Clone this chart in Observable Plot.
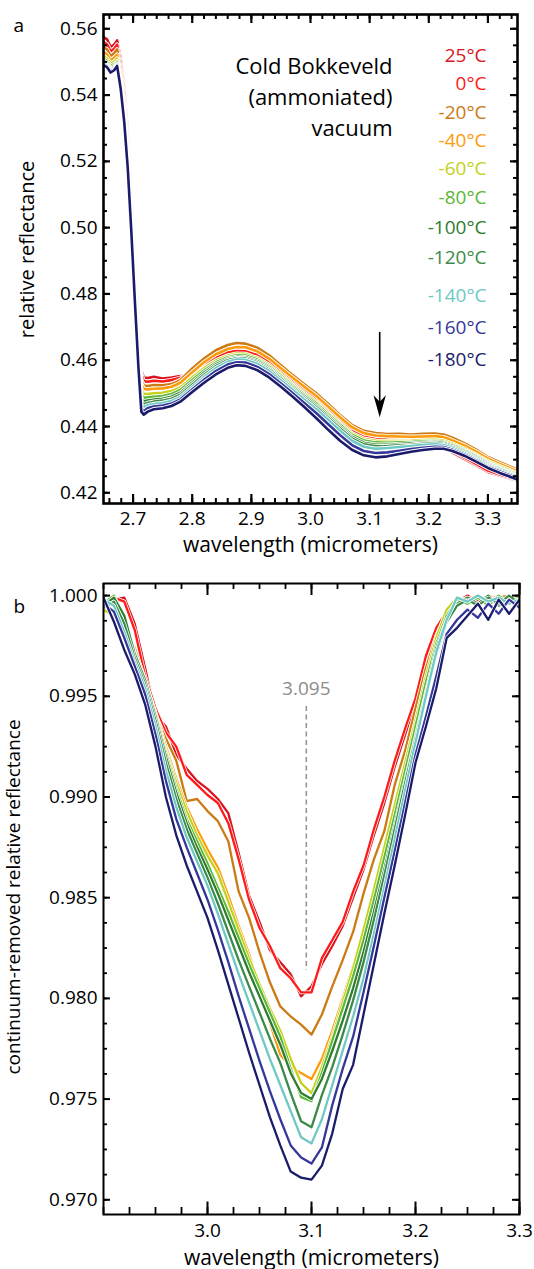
<!DOCTYPE html>
<html><head><meta charset="utf-8">
<script src="https://cdn.jsdelivr.net/npm/d3@7"></script>
<script src="https://cdn.jsdelivr.net/npm/@observablehq/plot@0.6"></script>
<style>
html,body{margin:0;padding:0;background:#fff;}
#chart svg{display:block;}
</style></head><body><div id="chart"></div>
<script>
// ---------- categories & colours ----------
const temps = ["25°C","0°C","-20°C","-40°C","-60°C","-80°C","-100°C","-120°C","-140°C","-160°C","-180°C"];
const colors = ["#d9141e","#ff1a1a","#cc7a14","#ff9a0a","#c4d21a","#5cb836","#2e7d2e","#3d8a48","#6ec8c4","#36379a","#1b1b6b"];

// ---------- panel a : relative reflectance ----------
const wlA = [2.650,2.656,2.662,2.668,2.673,2.679,2.685,2.691,2.697,2.703,2.709,2.714,2.718,2.725,2.735,2.750,2.765,2.780,2.800,2.820,2.840,2.860,2.875,2.890,2.910,2.930,2.950,2.970,2.990,3.010,3.030,3.050,3.070,3.090,3.110,3.130,3.150,3.170,3.190,3.210,3.225,3.240,3.260,3.280,3.300,3.320,3.350];
const a25  = [.5575,.5568,.5545,.5552,.5565,.5510,.5420,.5290,.5110,.4910,.4710,.4570,.4548,.4546,.4550,.4545,.4548,.4552,.4562,.4585,.4605,.4620,.4625,.4624,.4614,.4595,.4568,.4540,.4513,.4486,.4455,.4423,.4392,.4372,.4365,.4362,.4360,.4358,.4356,.4350,.4338,.4322,.4302,.4283,.4263,.4252,.4237];
const a0   = [.5560,.5553,.5532,.5540,.5552,.5495,.5405,.5275,.5095,.4895,.4695,.4558,.4537,.4535,.4538,.4536,.4540,.4547,.4565,.4590,.4610,.4624,.4628,.4627,.4616,.4596,.4568,.4539,.4511,.4484,.4452,.4420,.4389,.4369,.4362,.4360,.4359,.4358,.4357,.4353,.4343,.4327,.4307,.4287,.4267,.4255,.4240];
const am20 = [.5545,.5538,.5518,.5526,.5538,.5478,.5385,.5255,.5075,.4875,.4675,.4540,.4524,.4522,.4525,.4524,.4528,.4540,.4575,.4605,.4630,.4646,.4652,.4650,.4638,.4615,.4585,.4555,.4527,.4500,.4468,.4435,.4405,.4387,.4380,.4377,.4378,.4376,.4378,.4379,.4376,.4366,.4350,.4330,.4308,.4292,.4270];
const am40 = [.5530,.5522,.5505,.5512,.5522,.5460,.5365,.5235,.5055,.4855,.4655,.4528,.4514,.4512,.4514,.4515,.4520,.4532,.4564,.4594,.4618,.4634,.4640,.4639,.4627,.4605,.4576,.4547,.4519,.4492,.4460,.4428,.4398,.4380,.4373,.4371,.4370,.4369,.4370,.4371,.4368,.4358,.4343,.4324,.4303,.4287,.4265];
const am60 = [.5518,.5510,.5495,.5500,.5510,.5447,.5350,.5218,.5035,.4835,.4635,.4510,.4498,.4498,.4500,.4502,.4507,.4518,.4548,.4576,.4599,.4614,.4620,.4619,.4607,.4586,.4558,.4529,.4501,.4474,.4442,.4410,.4380,.4363,.4357,.4356,.4356,.4357,.4359,.4360,.4357,.4348,.4333,.4315,.4295,.4280,.4258];
const am80 = [.5510,.5503,.5488,.5493,.5502,.5438,.5340,.5207,.5022,.4820,.4620,.4495,.4487,.4488,.4490,.4492,.4498,.4510,.4540,.4569,.4593,.4609,.4615,.4614,.4602,.4581,.4553,.4524,.4496,.4469,.4437,.4405,.4375,.4358,.4352,.4351,.4352,.4353,.4355,.4356,.4353,.4344,.4329,.4311,.4291,.4276,.4255];
const am100= [.5504,.5497,.5482,.5488,.5498,.5432,.5333,.5198,.5012,.4808,.4607,.4482,.4476,.4478,.4481,.4484,.4490,.4502,.4532,.4562,.4587,.4604,.4610,.4609,.4597,.4576,.4548,.4519,.4491,.4463,.4431,.4399,.4369,.4351,.4345,.4345,.4347,.4349,.4351,.4353,.4350,.4341,.4326,.4308,.4288,.4273,.4252];
const am120= [.5500,.5493,.5478,.5484,.5495,.5428,.5328,.5192,.5005,.4800,.4598,.4474,.4467,.4471,.4475,.4478,.4484,.4496,.4526,.4556,.4582,.4600,.4606,.4605,.4593,.4572,.4544,.4515,.4486,.4458,.4426,.4394,.4364,.4346,.4340,.4341,.4343,.4345,.4348,.4350,.4347,.4338,.4323,.4305,.4285,.4271,.4250];
const am140= [.5497,.5490,.5475,.5481,.5492,.5425,.5325,.5188,.5000,.4793,.4592,.4465,.4458,.4464,.4468,.4471,.4477,.4489,.4519,.4549,.4576,.4595,.4602,.4601,.4589,.4567,.4539,.4510,.4481,.4452,.4420,.4387,.4357,.4339,.4333,.4335,.4338,.4341,.4344,.4346,.4344,.4335,.4320,.4302,.4282,.4268,.4248];
const am160= [.5493,.5487,.5471,.5478,.5490,.5422,.5322,.5184,.4995,.4786,.4586,.4455,.4446,.4456,.4460,.4463,.4469,.4482,.4512,.4541,.4567,.4587,.4594,.4593,.4580,.4558,.4530,.4500,.4470,.4440,.4407,.4374,.4344,.4326,.4320,.4322,.4327,.4332,.4336,.4339,.4338,.4330,.4316,.4298,.4278,.4264,.4244];
const am180= [.5490,.5484,.5468,.5475,.5488,.5420,.5320,.5180,.4990,.4780,.4580,.4445,.4436,.4445,.4452,.4455,.4462,.4475,.4504,.4532,.4557,.4577,.4585,.4583,.4570,.4548,.4520,.4490,.4458,.4425,.4390,.4357,.4330,.4313,.4307,.4310,.4317,.4324,.4329,.4333,.4333,.4326,.4312,.4294,.4275,.4260,.4240];
const seriesA = [a25,a0,am20,am40,am60,am80,am100,am120,am140,am160,am180];
const ticksXA = [2.7,2.8,2.9,3.0,3.1,3.2,3.3];
const ticksYA = [0.42,0.44,0.46,0.48,0.50,0.52,0.54,0.56];

// ---------- panel b : continuum-removed ----------
const wlB = [2.90,2.91,2.92,2.93,2.94,2.95,2.96,2.97,2.98,2.99,3.00,3.01,3.02,3.03,3.04,3.05,3.06,3.07,3.08,3.09,3.10,3.11,3.12,3.13,3.14,3.15,3.16,3.17,3.18,3.19,3.20,3.21,3.22,3.23,3.24,3.25,3.26,3.27,3.28,3.29,3.30];
const b25  = [.9993,.9998,.9999,.9986,.9964,.9941,.9935,.9921,.9914,.9908,.9904,.9899,.9892,.9872,.9851,.9838,.9824,.9818,.9812,.9801,.9806,.9817,.9826,.9836,.9850,.9864,.9881,.9897,.9915,.9931,.9947,.9967,.9982,.9990,.9997,1.0000,.9997,1.0000,.9998,1.0000,.9997];
const b0   = [.9995,.9999,.9997,.9983,.9960,.9944,.9932,.9925,.9911,.9906,.9901,.9897,.9887,.9869,.9849,.9835,.9826,.9815,.9810,.9803,.9803,.9820,.9829,.9838,.9853,.9866,.9884,.9900,.9918,.9934,.9949,.9970,.9984,.9992,.9998,.9998,1.0000,.9997,1.0000,.9998,.9999];
const bm20 = [.9994,.9991,.9984,.9974,.9958,.9941,.9929,.9918,.9898,.9899,.9893,.9888,.9878,.9853,.9840,.9823,.9808,.9796,.9791,.9787,.9782,.9792,.9806,.9819,.9833,.9852,.9869,.9883,.9906,.9923,.9944,.9964,.9980,.9992,.9998,.9996,1.0000,.9995,.9999,1.0000,.9996];
const bm40 = [.9994,.9989,.9983,.9971,.9957,.9942,.9925,.9909,.9895,.9884,.9874,.9865,.9851,.9836,.9822,.9805,.9788,.9772,.9766,.9763,.9760,.9770,.9784,.9800,.9816,.9834,.9853,.9874,.9895,.9916,.9937,.9959,.9978,.9991,.9997,.9999,.9995,1.0000,.9997,.9999,.9998];
const bm60 = [.9993,.9990,.9983,.9970,.9956,.9940,.9923,.9907,.9893,.9881,.9871,.9862,.9848,.9834,.9820,.9807,.9795,.9784,.9770,.9758,.9753,.9766,.9781,.9798,.9815,.9834,.9854,.9875,.9896,.9917,.9938,.9960,.9979,.9993,.9999,.9997,1.0000,.9996,.9999,.9997,1.0000];
const bm80 = [.9996,1.0000,.9989,.9972,.9958,.9941,.9922,.9904,.9889,.9878,.9867,.9855,.9843,.9830,.9817,.9805,.9793,.9781,.9765,.9751,.9749,.9763,.9779,.9795,.9811,.9829,.9849,.9870,.9891,.9913,.9935,.9957,.9976,.9990,.9998,.9996,.9999,.9995,1.0000,.9996,.9999];
const bm100= [.9995,.9999,.9990,.9971,.9958,.9940,.9920,.9902,.9887,.9875,.9864,.9852,.9839,.9826,.9813,.9801,.9789,.9777,.9763,.9753,.9750,.9760,.9774,.9789,.9805,.9823,.9843,.9864,.9886,.9908,.9930,.9952,.9974,.9988,.9996,.9999,.9996,1.0000,.9995,.9999,.9997];
const bm120= [.9994,.9997,.9986,.9969,.9956,.9938,.9917,.9899,.9884,.9872,.9860,.9847,.9833,.9819,.9806,.9793,.9780,.9768,.9753,.9739,.9736,.9752,.9766,.9782,.9799,.9818,.9839,.9861,.9884,.9907,.9929,.9951,.9971,.9987,.9995,.9998,.9995,.9999,.9996,1.0000,.9996];
const bm140= [.9998,.9995,.9982,.9967,.9954,.9935,.9913,.9895,.9880,.9868,.9856,.9842,.9827,.9812,.9798,.9784,.9770,.9757,.9744,.9731,.9728,.9740,.9757,.9774,.9791,.9810,.9832,.9855,.9879,.9903,.9927,.9950,.9972,.9988,.9999,.9997,1.0000,.9997,.9999,.9996,.9998];
const bm160= [.9996,.9992,.9979,.9965,.9951,.9931,.9908,.9889,.9875,.9862,.9849,.9834,.9818,.9801,.9785,.9769,.9754,.9740,.9727,.9721,.9718,.9726,.9747,.9765,.9781,.9803,.9826,.9850,.9873,.9897,.9921,.9940,.9960,.9981,.9988,.9993,.9989,.9996,.9991,.9998,.9994];
const bm180= [.9999,.9987,.9973,.9961,.9946,.9925,.9900,.9881,.9866,.9853,.9840,.9824,.9807,.9790,.9773,.9757,.9741,.9727,.9714,.9711,.9710,.9717,.9733,.9755,.9767,.9792,.9817,.9842,.9866,.9891,.9917,.9935,.9954,.9979,.9984,.9990,.9996,.9988,.9998,.9991,.9998];
const seriesB = [b25,b0,bm20,bm40,bm60,bm80,bm100,bm120,bm140,bm160,bm180];
const ticksXB = [3.0,3.1,3.2,3.3];
const ticksYB = [0.970,0.975,0.980,0.985,0.990,0.995,1.000];
const bandCentre = 3.095;

// ---------- helpers ----------
const font = "'Open Sans', sans-serif";
function rows(wl, vals){ return wl.map((w,j)=>({w, r: vals[j]})); }

function spectraMarks(wl, series, casing, width){
  const m = [];
  series.forEach((vals,i)=>{
    const d = rows(wl, vals);
    m.push(Plot.line(d,{x:"w",y:"r",stroke:"white",strokeWidth:casing,clip:true,strokeLinejoin:"round"}));
    m.push(Plot.line(d,{x:"w",y:"r",stroke:colors[i],strokeWidth:width,clip:true,strokeLinejoin:"round"}));
  });
  return m;
}
function tickMarks(xs, ys, innerW, innerH, L){
  const m = [];
  m.push(Plot.tickX(xs,{x:d=>d,insetTop:innerH-L.xb,stroke:"black",strokeWidth:L.sw}));
  m.push(Plot.tickX(xs,{x:d=>d,insetBottom:innerH-L.xt,stroke:"black",strokeWidth:L.sw}));
  m.push(Plot.tickY(ys,{y:d=>d,insetRight:innerW-L.yl,stroke:"black",strokeWidth:L.sw}));
  m.push(Plot.tickY(ys,{y:d=>d,insetLeft:innerW-L.yr,stroke:"black",strokeWidth:L.sw}));
  return m;
}

// ---------- panel a ----------
const minorXA = d3.range(0,35).map(i=>2.66+0.02*i);
const minorYA = d3.range(0,29).map(i=>0.42+0.005*i);
const wA = 534, hA = 562, mlA = 103, mrA = 17, mtA = 14, mbA = 59;
const iwA = wA-mlA-mrA, ihA = hA-mtA-mbA;

const arrowHead = { draw(ctx, size){ const r = Math.sqrt(size/Math.PI);
  ctx.moveTo(0,0); ctx.lineTo(-0.62*r,-2.2*r); ctx.lineTo(0,-1.55*r); ctx.lineTo(0.62*r,-2.2*r); ctx.closePath(); } };

const legendDy = [41.6,69.9,98.2,126.6,154.9,183.2,213.2,243.2,281.6,313.2,345.6];

const marksA = [
  ...spectraMarks(wlA, seriesA, 4.4, 2.6),
  ...tickMarks(minorXA, minorYA, iwA, ihA, {xb:5,xt:5,yl:4,yr:4,sw:2}),
  ...tickMarks(ticksXA, ticksYA, iwA, ihA, {xb:9,xt:9,yl:7,yr:7,sw:2.2}),
  Plot.frame({stroke:"black",strokeWidth:2.6}),
  Plot.axisX(ticksXA,{anchor:"bottom",tickSize:0,tickPadding:8,tickFormat:d3.format(".1f"),label:null,fontSize:19}),
  Plot.axisY(ticksYA,{anchor:"left",tickSize:0,tickPadding:6,tickFormat:d3.format(".2f"),label:null,fontSize:19}),
  Plot.ruleX([3.117],{y1:0.4684,y2:0.4455,stroke:"black",strokeWidth:1.6}),
  Plot.dot([{w:3.117,r:0.4428}],{x:"w",y:"r",symbol:arrowHead,r:10,fill:"black",stroke:"none"}),
  Plot.text(["Cold Bokkeveld\n(ammoniated)\nvacuum"],{frameAnchor:"top-right",dx:-125,dy:81,textAnchor:"end",lineAnchor:"middle",lineHeight:1.41,fontSize:22,fill:"black"}),
  ...temps.map((t,i)=>Plot.text([t],{frameAnchor:"top-right",dx:-31,dy:legendDy[i],textAnchor:"end",lineAnchor:"middle",fontSize:19,fill:colors[i]})),
  Plot.text(["wavelength (micrometers)"],{frameAnchor:"bottom",dy:41.5,textAnchor:"middle",lineAnchor:"middle",fontSize:21,fill:"black"}),
  Plot.text(["relative reflectance"],{frameAnchor:"left",dx:-76.4,dy:-9.5,rotate:-90,textAnchor:"middle",lineAnchor:"middle",fontSize:20,fill:"black"}),
  Plot.text(["a"],{frameAnchor:"top-left",dx:-90,dy:11.7,textAnchor:"start",lineAnchor:"middle",fontSize:19,fill:"black"})
];

const plotA = Plot.plot({
  width:wA, height:hA, marginLeft:mlA, marginRight:mrA, marginTop:mtA, marginBottom:mbA,
  x:{domain:[2.65,3.35]}, y:{domain:[0.41677,0.56431]},
  style:{fontFamily:font, fontSize:"19px", background:"white", color:"black", overflow:"visible"},
  marks: marksA
});

// ---------- panel b ----------
const minorXB = d3.range(0,17).map(i=>2.9+0.025*i);
const minorYB = d3.range(0,25).map(i=>0.97+0.00125*i);
const wB = 534, hB = 707, mlB = 103, mrB = 15, mtB = 21, mbB = 55;
const iwB = wB-mlB-mrB, ihB = hB-mtB-mbB;

const marksB = [
  Plot.ruleX([bandCentre],{y1:0.99449,y2:0.98138,stroke:"#959595",strokeWidth:1.6,strokeDasharray:"5,3.5"}),
  Plot.text([{w:bandCentre,r:0.99535,t:"3.095"}],{x:"w",y:"r",text:"t",fill:"#8c8c8c",fontSize:19,lineAnchor:"middle"}),
  ...spectraMarks(wlB, seriesB, 3.8, 2.3),
  Plot.tickX(minorXB,{x:d=>d,insetTop:ihB-7,stroke:"black",strokeWidth:1.8}),
  Plot.tickX(minorXB,{x:d=>d,insetBottom:ihB-6,stroke:"black",strokeWidth:1.8}),
  Plot.tickY(minorYB,{y:d=>d,insetRight:iwB-4,stroke:"black",strokeWidth:1.8}),
  Plot.tickY(minorYB,{y:d=>d,insetLeft:iwB-4,stroke:"black",strokeWidth:1.8}),
  Plot.tickX(ticksXB,{x:d=>d,insetTop:ihB-12.5,stroke:"black",strokeWidth:2}),
  Plot.tickX(ticksXB,{x:d=>d,insetBottom:ihB-12,stroke:"black",strokeWidth:2}),
  Plot.tickY(ticksYB,{y:d=>d,insetRight:iwB-7,stroke:"black",strokeWidth:2}),
  Plot.tickY(ticksYB,{y:d=>d,insetLeft:iwB-7,stroke:"black",strokeWidth:2}),
  Plot.frame({stroke:"black",strokeWidth:2}),
  Plot.axisX(ticksXB,{anchor:"bottom",tickSize:0,tickPadding:9,tickFormat:d3.format(".1f"),label:null,fontSize:19}),
  Plot.axisY(ticksYB,{anchor:"left",tickSize:0,tickPadding:6,tickFormat:d3.format(".3f"),label:null,fontSize:19}),
  Plot.text(["wavelength (micrometers)"],{frameAnchor:"bottom",dy:43.5,textAnchor:"middle",lineAnchor:"middle",fontSize:21,fill:"black"}),
  Plot.text(["continuum-removed relative reflectance"],{frameAnchor:"left",dx:-90,dy:-2,rotate:-90,textAnchor:"middle",lineAnchor:"middle",fontSize:19,fill:"black"}),
  Plot.text(["b"],{frameAnchor:"top-left",dx:-90,dy:23,textAnchor:"start",lineAnchor:"middle",fontSize:19,fill:"black"})
];

const plotB = Plot.plot({
  width:wB, height:hB, marginLeft:mlB, marginRight:mrB, marginTop:mtB, marginBottom:mbB,
  x:{domain:[2.9,3.3]}, y:{domain:[0.96927,1.0006]},
  style:{fontFamily:font, fontSize:"19px", background:"white", color:"black", overflow:"visible"},
  marks: marksB
});

const root = document.getElementById("chart");
root.appendChild(plotA);
root.appendChild(plotB);
</script></body></html>
